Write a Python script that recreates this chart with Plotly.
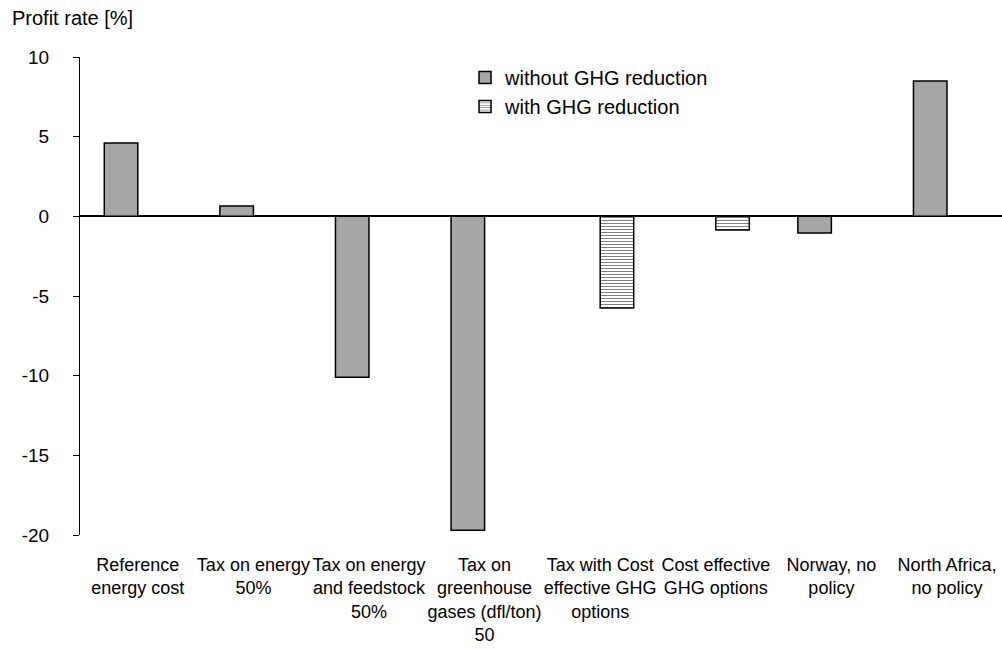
import plotly.graph_objects as go

# Scenario categories (x-axis tick labels)
categories = [
    "Reference<br>energy cost",
    "Tax on energy<br>50%",
    "Tax on energy<br>and feedstock<br>50%",
    "Tax on<br>greenhouse<br>gases (dfl/ton)<br>50",
    "Tax with Cost<br>effective GHG<br>options",
    "Cost effective<br>GHG options",
    "Norway, no<br>policy",
    "North Africa,<br>no policy",
]

# Profit rate [%] per scenario
without_ghg = [4.6, 0.65, -10.1, -19.7, None, None, -1.05, 8.5]
with_ghg = [None, None, None, None, -5.75, -0.85, None, None]

series_names = ["without GHG reduction", "with GHG reduction"]
y_ticks = [10, 5, 0, -5, -10, -15, -20]

FONT = "Liberation Sans, Arial, sans-serif"

fig = go.Figure()
fig.add_trace(go.Bar(
    x=categories, y=without_ghg, name=series_names[0],
    marker=dict(color="#a6a6a6", line=dict(color="#000000", width=1.5)),
))
fig.add_trace(go.Bar(
    x=categories, y=with_ghg, name=series_names[1],
    marker=dict(
        color="#ffffff",
        line=dict(color="#000000", width=1.5),
        pattern=dict(shape="-", fgcolor="#000000", bgcolor="#ffffff",
                     size=3, solidity=0.35),
    ),
))

fig.update_layout(
    width=1002, height=650,
    margin=dict(l=80, r=0, t=57, b=115, pad=0, autoexpand=False),
    paper_bgcolor="white", plot_bgcolor="white",
    barmode="group", bargap=0.42, bargroupgap=0,
    font=dict(family=FONT, color="#000000", size=19),
    showlegend=True,
    legend=dict(
        x=0.4176, xanchor="left", y=0.998, yanchor="top",
        bgcolor="rgba(0,0,0,0)", borderwidth=0,
        font=dict(size=20, family=FONT),
        itemwidth=30, traceorder="normal",
    ),
    xaxis=dict(
        type="category", range=[-0.5, 7.476], automargin=False,
        showline=False, ticks="", showgrid=False, zeroline=False,
        tickangle=0,
        tickfont=dict(size=18, family=FONT),
        ticklabelstandoff=17,
    ),
    yaxis=dict(
        range=[-20, 10], tickvals=y_ticks, ticktext=[str(v) for v in y_ticks],
        automargin=False,
        showline=True, linecolor="#000000", linewidth=1,
        ticks="outside", ticklen=6, tickcolor="#000000", tickwidth=1,
        showgrid=False,
        zeroline=True, zerolinecolor="#000000", zerolinewidth=1.5,
        tickfont=dict(size=19, family=FONT),
        ticklabelstandoff=20,
    ),
    annotations=[dict(
        text="Profit rate [%]", xref="paper", yref="paper",
        x=0, y=1, xanchor="left", yanchor="middle",
        xshift=-70, yshift=39, showarrow=False,
        font=dict(size=20, family=FONT),
    )],
)

fig.write_html("out.html")
